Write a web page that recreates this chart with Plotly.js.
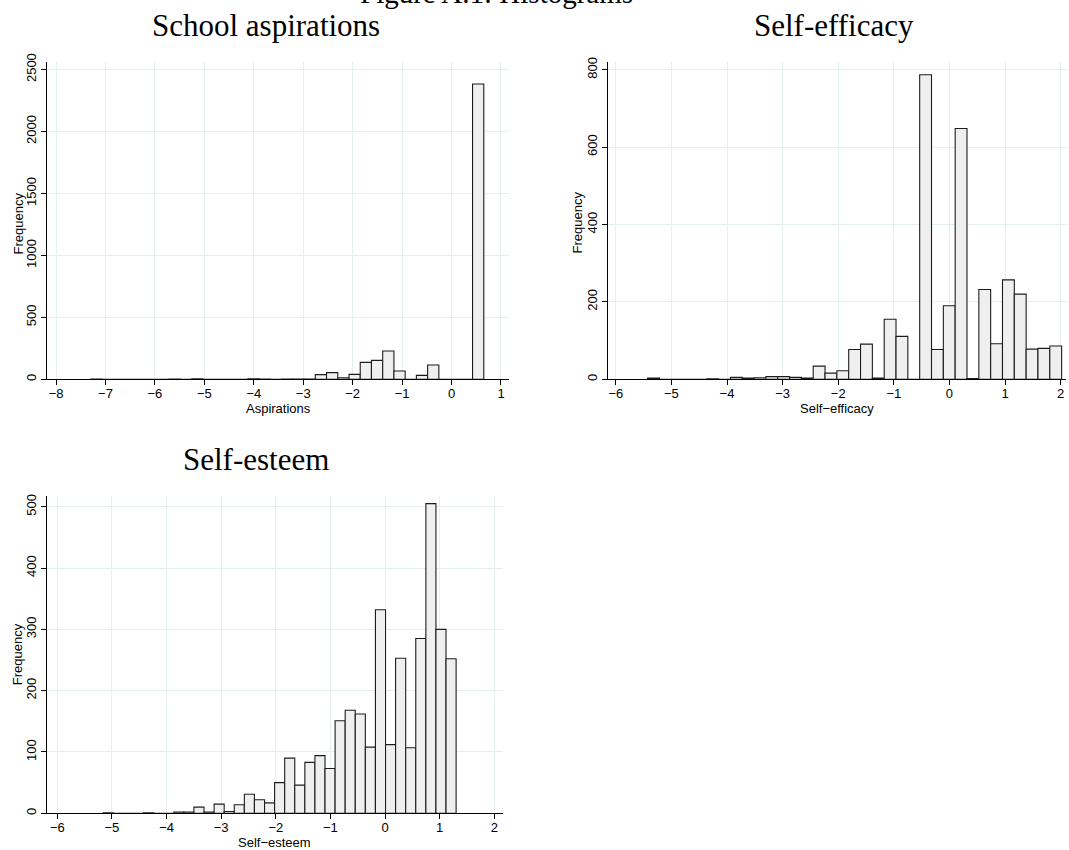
<!DOCTYPE html>
<html><head><meta charset="utf-8">
<script src="https://cdn.plot.ly/plotly-3.0.1.min.js"></script>
<style>html,body{margin:0;padding:0;background:#fff}#chart{width:1069px;height:850px}</style>
</head><body><div id="chart"></div>
<script>
// ---- text ----
const figureTitle = 'Figure A.1: Histograms';
const panelTitles = ['School aspirations', 'Self-efficacy', 'Self-esteem'];
const xAxisTitles = ['Aspirations', 'Self\u2212efficacy', 'Self\u2212esteem'];
const yAxisTitle = 'Frequency';

// ---- data (35 bins each: start, width, counts) ----
const aspBinStart = -7.30, aspBinWidth = 0.2272;
const aspCounts = [2,0,0,0,0,0,0,2,0,5, 0,0,0,0,5,2,0,2,3,3, 38,54,13,40,137,153,229,67,0,32, 116,0,0,0,2383];

const effBinStart = -5.428, effBinWidth = 0.2127;
const effCounts = [3,0,0,0,0,1,0,5,3,4, 7,7,5,3,34,16,22,77,91,3, 155,111,0,787,77,190,648,2,232,92, 257,220,78,80,86];

const estBinStart = -5.16, estBinWidth = 0.1846;
const estCounts = [1,0,0,0,1,0,0,2,2,10, 2,15,3,14,31,22,17,50,90,46, 83,94,73,151,168,162,108,332,112,253, 107,285,505,300,252];

const aspXTicks = [-8,-7,-6,-5,-4,-3,-2,-1,0,1];
const effXTicks = [-6,-5,-4,-3,-2,-1,0,1,2];
const estXTicks = [-6,-5,-4,-3,-2,-1,0,1,2];
const aspYTicks = [0,500,1000,1500,2000,2500];
const effYTicks = [0,200,400,600,800];
const estYTicks = [0,100,200,300,400,500];

// ---- helpers ----
const W = 1069, H = 850;
const px = v => v / W;
const py = v => 1 - v / H;
function binCenters(start, width, n) {
  const c = [];
  for (let i = 0; i < n; i++) c.push(start + (i + 0.5) * width);
  return c;
}
function barTrace(start, width, counts, xa, ya) {
  return {
    type: 'bar',
    x: binCenters(start, width, counts.length),
    y: counts,
    width: counts.map(() => width),
    xaxis: xa, yaxis: ya,
    marker: {color: '#efefef', line: {color: '#1c1c1c', width: 1.1}},
    hoverinfo: 'x+y'
  };
}

const sans = 'Liberation Sans, Arial, Helvetica, sans-serif';
const serif = 'Liberation Serif, Times New Roman, serif';
const gridColor = '#e6eff0';

function xAxis(domain, range, ticks, anchor) {
  return {
    domain: domain, range: range, anchor: anchor,
    tickmode: 'array', tickvals: ticks,
    ticks: 'outside', ticklen: 5, tickwidth: 1, tickcolor: '#000',
    ticklabelstandoff: -3,
    showline: true, linecolor: '#000', linewidth: 1,
    showgrid: true, gridcolor: gridColor, gridwidth: 1,
    zeroline: false, fixedrange: true,
    tickfont: {family: sans, size: 13, color: '#000'}
  };
}
function yAxis(domain, range, ticks, anchor) {
  return {
    domain: domain, range: range, anchor: anchor,
    tickmode: 'array', tickvals: ticks,
    ticks: 'outside', ticklen: 5, tickwidth: 1, tickcolor: '#000',
    showline: true, linecolor: '#000', linewidth: 1,
    showgrid: true, gridcolor: gridColor, gridwidth: 1,
    zeroline: false, fixedrange: true, tickangle: -90,
    tickfont: {family: sans, size: 13, color: '#000'}
  };
}

const data = [
  barTrace(aspBinStart, aspBinWidth, aspCounts, 'x', 'y'),
  barTrace(effBinStart, effBinWidth, effCounts, 'x2', 'y2'),
  barTrace(estBinStart, estBinWidth, estCounts, 'x3', 'y3')
];

function ann(text, x, y, size, font, angle) {
  return {text: text, x: x, y: y, xref: 'paper', yref: 'paper',
    xanchor: 'center', yanchor: 'middle', showarrow: false,
    textangle: angle || 0, font: {family: font, size: size, color: '#000'}};
}

const layout = {
  width: W, height: H,
  margin: {l: 0, r: 0, t: 0, b: 0},
  paper_bgcolor: '#fff', plot_bgcolor: '#fff',
  showlegend: false, bargap: 0,
  xaxis:  xAxis([px(47), px(509)], [-8.183, 1.162], aspXTicks, 'y'),
  yaxis:  yAxis([py(379.3), py(62)], [0, 2561], aspYTicks, 'x'),
  xaxis2: xAxis([px(608), px(1066)], [-6.14, 2.095], effXTicks, 'y2'),
  yaxis2: yAxis([py(379.3), py(62)], [0, 820], effYTicks, 'x2'),
  xaxis3: xAxis([px(46.7), px(502.7)], [-6.194, 2.154], estXTicks, 'y3'),
  yaxis3: yAxis([py(813.3), py(495.7)], [0, 518], estYTicks, 'x3'),
  annotations: [
    ann(figureTitle, px(496), py(3 - 0.3375 * 29), 29, serif),
    ann(panelTitles[0], px(265.5), py(36 - 0.3375 * 31), 31, serif),
    ann(panelTitles[1], px(834), py(36 - 0.3375 * 31), 31, serif),
    ann(panelTitles[2], px(256), py(470 - 0.3375 * 31), 31, serif),
    ann(xAxisTitles[0], px(278), py(408), 13, sans),
    ann(xAxisTitles[1], px(837), py(408), 13, sans),
    ann(xAxisTitles[2], px(274.7), py(842), 13, sans),
    ann(yAxisTitle, px(17.5), py(224), 13, sans, -90),
    ann(yAxisTitle, px(576.5), py(222), 13, sans, -90),
    ann(yAxisTitle, px(17.2), py(654), 13, sans, -90)
  ]
};

Plotly.newPlot('chart', data, layout, {staticPlot: true, displayModeBar: false});
</script>
</body></html>
